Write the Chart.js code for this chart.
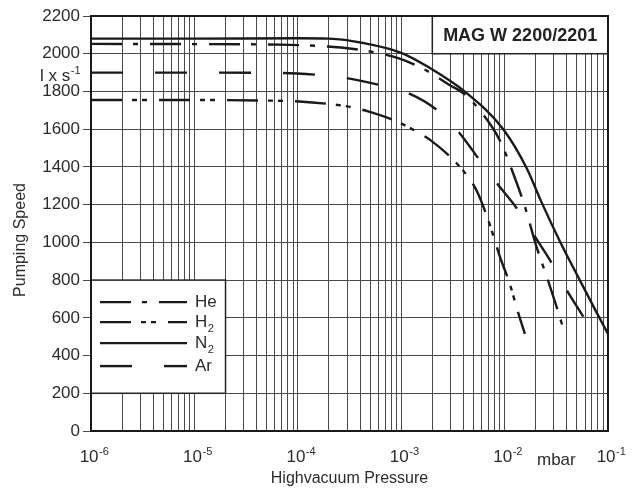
<!DOCTYPE html>
<html>
<head>
<meta charset="utf-8">
<script src="https://cdn.jsdelivr.net/npm/chart.js@4.4.0/dist/chart.umd.min.js"></script>
<style>
    html, body { margin: 0; padding: 0; background: #fff; }
</style>
</head>
<body>
<canvas id="myChart" width="638" height="493"></canvas>
<script>
// x axis: pressure decades (mbar) and the 1..9 grid steps inside each decade
const decades = [1e-6, 1e-5, 1e-4, 1e-3, 1e-2, 1e-1]
const decadeExp = ['-6', '-5', '-4', '-3', '-2', '-1']
const minorSteps = [1, 2, 3, 4, 5, 6, 7, 8, 9]

// pumping speed curves, l/s
const heP = [1e-6, 1e-5, 6.7e-5, 2.6e-4, 5e-4, 9.5e-4, 1.7e-3, 2.9e-3, 4.1e-3, 6e-3, 9e-3, 1.26e-2, 1.57e-2, 2.04e-2, 2.55e-2, 3.14e-2, 3.85e-2]
const heS = [2052, 2051, 2048, 2033, 2012, 1975, 1915, 1836, 1785, 1688, 1540, 1340, 1190, 975, 820, 668, 512]

const h2P = [1e-6, 1e-5, 4.5e-5, 1.04e-4, 2.04e-4, 3.2e-4, 4.8e-4, 9e-4, 1.5e-3, 1.96e-3, 3.18e-3, 4.6e-3, 5.43e-3, 6.94e-3, 9e-3, 1.13e-2, 1.32e-2, 1.57e-2]
const h2S = [1755, 1755, 1752, 1747, 1733, 1718, 1694, 1641, 1579, 1538, 1438, 1335, 1268, 1119, 925, 775, 646, 515]

const n2P = [1e-6, 1e-5, 1e-4, 2e-4, 4.3e-4, 1e-3, 1.9e-3, 4.1e-3, 9.7e-3, 1.64e-2, 2.28e-2, 3.43e-2, 5.16e-2, 7.48e-2, 1e-1]
const n2S = [2080, 2080, 2082, 2080, 2057, 2005, 1924, 1800, 1600, 1392, 1212, 1005, 815, 645, 515]

const arP = [1e-6, 1e-5, 7.1e-5, 1.46e-4, 2.95e-4, 5.97e-4, 1.17e-3, 2.2e-3, 3.56e-3, 5.55e-3, 8.4e-3, 1.31e-2, 1.96e-2, 2.8e-2, 3.98e-2, 5.77e-2]
const arS = [1900, 1900, 1898, 1889, 1871, 1836, 1791, 1703, 1588, 1447, 1314, 1181, 1031, 898, 748, 606]

const gasNames = ['He', 'H', 'N', 'Ar']
const gasSubs = ['', '2', '2', '']
const gasDash = [[31, 11, 5, 12], [31, 10, 5, 5, 5, 12], [], [32, 32]]

const FONT = '"Liberation Sans", Arial, Helvetica, sans-serif'
const INK = '#2b2b2b'

function pts(p, s) {
    return p.map((v, i) => ({ x: v, y: s[i] }))
}

function supText(ctx, base, sup, x, y, size, align) {
    // "base" with a raised small "sup", x is the left edge unless align says otherwise
    ctx.font = size + 'px ' + FONT
    const w1 = ctx.measureText(base).width
    ctx.font = Math.round(size * 0.65) + 'px ' + FONT
    const w2 = ctx.measureText(sup).width
    let left = align == 'right' ? x - w1 - w2 : (align == 'center' ? x - (w1 + w2) / 2 : x)
    ctx.textAlign = 'left'
    ctx.textBaseline = 'alphabetic'
    ctx.font = size + 'px ' + FONT
    ctx.fillText(base, left, y)
    ctx.font = Math.round(size * 0.65) + 'px ' + FONT
    ctx.fillText(sup, left + w1 + 0.5, y - size * 0.42)
}

function subText(ctx, base, sub, x, y, size) {
    ctx.font = size + 'px ' + FONT
    ctx.textAlign = 'left'
    ctx.textBaseline = 'middle'
    ctx.fillText(base, x, y)
    if (sub) {
        const w1 = ctx.measureText(base).width
        ctx.font = Math.round(size * 0.62) + 'px ' + FONT
        ctx.fillText(sub, x + w1 + 0.5, y + size * 0.42)
    }
}

const deco = {
    id: 'deco',
    afterDatasetsDraw(chart) {
        const { ctx, chartArea: a, scales: { x, y } } = chart
        ctx.save()
        ctx.setLineDash([])
        // type box, top right
        const tl = x.getPixelForValue(2e-3), tt = y.getPixelForValue(2200), tb = y.getPixelForValue(2000)
        ctx.fillStyle = '#fff'
        ctx.fillRect(tl, tt, a.right - tl, tb - tt)
        ctx.strokeStyle = '#222'
        ctx.lineWidth = 1.5
        ctx.strokeRect(tl, tt, a.right - tl, tb - tt)
        ctx.fillStyle = '#222'
        ctx.font = 'bold 18px ' + FONT
        ctx.textAlign = 'center'
        ctx.textBaseline = 'middle'
        ctx.fillText('MAG W 2200/2201', (tl + a.right) / 2, (tt + tb) / 2 + 1)

        // legend box, bottom left
        const ll = a.left, lr = x.getPixelForValue(2e-5)
        const lt = y.getPixelForValue(800), lb = y.getPixelForValue(200)
        ctx.fillStyle = '#fff'
        ctx.fillRect(ll, lt, lr - ll, lb - lt)
        ctx.strokeRect(ll, lt, lr - ll, lb - lt)
        const rowY = [22, 42, 63, 86]
        gasNames.forEach((n, i) => {
            const yy = lt + rowY[i]
            ctx.setLineDash(gasDash[i])
            ctx.lineWidth = 2.4
            ctx.strokeStyle = '#1a1a1a'
            ctx.beginPath()
            ctx.moveTo(ll + 9, yy)
            ctx.lineTo(ll + 96, yy)
            ctx.stroke()
            ctx.setLineDash([])
            ctx.fillStyle = INK
            subText(ctx, n, gasSubs[i], ll + 104, yy, 17)
        })

        // frame
        ctx.strokeStyle = '#1a1a1a'
        ctx.lineWidth = 2
        ctx.strokeRect(a.left, a.top, a.right - a.left, a.bottom - a.top)
        ctx.restore()
    },
    afterDraw(chart) {
        const { ctx, chartArea: a, scales: { x, y } } = chart
        ctx.save()
        ctx.fillStyle = INK
        // decade labels 10^n
        decades.forEach((d, i) => {
            supText(ctx, '10', decadeExp[i], x.getPixelForValue(d) + 3, 462, 17, 'center')
        })
        ctx.font = '17px ' + FONT
        ctx.textAlign = 'left'
        ctx.fillText('mbar', 537, 465)
        // unit under 2000
        supText(ctx, 'l x s', '-1', a.left - 11, 81, 17, 'right')
        // axis titles
        ctx.font = '16px ' + FONT
        ctx.textAlign = 'center'
        ctx.textBaseline = 'middle'
        ctx.fillText('Highvacuum Pressure', (a.left + a.right) / 2, 479)
        ctx.translate(21, 240)
        ctx.rotate(-Math.PI / 2)
        ctx.fillText('Pumping Speed', 0, 0)
        ctx.restore()
    }
}

const line = (label, p, s, dash) => ({
    label: label,
    data: pts(p, s),
    borderColor: '#1a1a1a',
    borderWidth: 2.4,
    borderDash: dash,
    borderCapStyle: 'butt',
    pointRadius: 0,
    fill: false,
    cubicInterpolationMode: 'monotone'
})

const ctx = document.getElementById('myChart').getContext('2d')
const myChart = new Chart(ctx, {
    type: 'line',
    data: {
        datasets: [
            line('He', heP, heS, gasDash[0]),
            line('H2', h2P, h2S, gasDash[1]),
            line('N2', n2P, n2S, gasDash[2]),
            line('Ar', arP, arS, gasDash[3])
        ]
    },
    options: {
        responsive: false,
        animation: false,
        devicePixelRatio: 1,
        layout: { padding: { top: 16, right: 30, left: 0, bottom: 0 } },
        plugins: {
            legend: { display: false },
            tooltip: { enabled: false },
            title: { display: false }
        },
        scales: {
            x: {
                type: 'logarithmic',
                min: 1e-6,
                max: 1e-1,
                afterBuildTicks: (s) => {
                    s.ticks = decades.slice(0, 5)
                        .flatMap((d) => minorSteps.map((m) => ({ value: d * m })))
                        .concat([{ value: decades[5] }])
                },
                afterFit: (s) => { s.height = 62 },
                ticks: { autoSkip: false, maxRotation: 0, callback: () => '' },
                grid: { color: '#4a4a4a', lineWidth: 1, drawTicks: false },
                border: { display: false }
            },
            y: {
                min: 0,
                max: 2200,
                afterFit: (s) => { s.width = 91 },
                ticks: {
                    stepSize: 200,
                    padding: 3,
                    color: INK,
                    font: { family: FONT, size: 17 },
                    callback: (v) => String(v)
                },
                grid: { color: '#4a4a4a', lineWidth: 1, tickLength: 8 },
                border: { display: false }
            }
        }
    },
    plugins: [deco]
})
</script>
</body>
</html>
